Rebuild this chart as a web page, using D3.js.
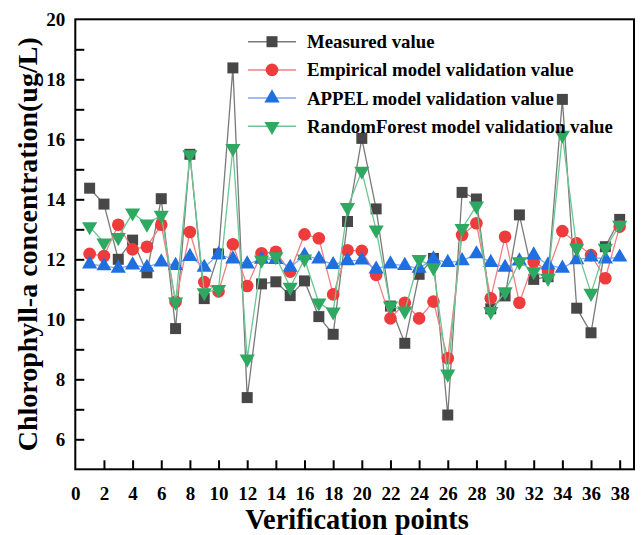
<!DOCTYPE html>
<html>
<head>
<meta charset="utf-8">
<script src="https://cdn.jsdelivr.net/npm/d3@7"></script>
<style>
  html, body { margin: 0; padding: 0; background: #fff; }
  svg text { font-family: "Liberation Serif", "Times New Roman", serif; font-weight: bold; fill: #000; }
</style>
</head>
<body>
<svg id="chart" width="642" height="535"></svg>
<script>
// Verification point indices
const points = d3.range(1, 39);

// Chlorophyll-a concentration (ug/L) at each verification point
const measured = [14.37, 13.84, 12.0, 12.64, 11.55, 14.02, 9.69, 15.5, 10.69, 12.18,
  18.38, 7.39, 11.18, 11.25, 10.79, 11.28, 10.09, 9.5, 13.26, 16.03,
  13.68, 10.44, 9.2, 11.5, 12.03, 6.81, 14.23, 14.01, 10.35, 10.78,
  13.48, 11.33, 11.42, 17.33, 10.37, 9.55, 12.42, 13.33];

const empirical = [12.18, 12.11, 13.15, 12.33, 12.42, 13.15, 10.58, 12.91, 11.24, 10.93,
  12.5, 11.11, 12.2, 12.25, 11.59, 12.83, 12.7, 10.83, 12.3, 12.28,
  11.48, 10.03, 10.55, 10.03, 10.59, 8.7, 12.81, 13.2, 10.7, 12.75,
  10.55, 11.92, 11.62, 12.94, 12.53, 12.14, 11.37, 13.09];

const appel = [11.84, 11.78, 11.7, 11.81, 11.73, 11.91, 11.79, 12.09, 11.73, 12.16,
  12.01, 11.84, 12.0, 11.99, 11.73, 12.13, 12.01, 11.82, 11.95, 11.97,
  11.67, 11.84, 11.79, 11.7, 12.01, 11.89, 11.95, 12.18, 11.89, 11.73,
  11.94, 12.14, 11.81, 11.7, 11.98, 12.07, 12.01, 12.07];

const randomForest = [13.09, 12.55, 12.73, 13.55, 13.18, 13.47, 10.58, 15.49, 10.89, 11.0,
  15.7, 8.68, 11.98, 12.09, 11.07, 12.01, 10.55, 10.25, 13.73, 14.94,
  12.98, 10.45, 10.28, 12.0, 11.72, 8.18, 13.03, 13.78, 10.26, 10.92,
  11.92, 11.59, 11.37, 16.14, 12.37, 10.87, 12.37, 13.14];

// Axis ticks
const xTicks = d3.range(0, 39, 2);
const yTicks = d3.range(5, 21, 1);
const yLabels = d3.range(6, 21, 2);

const seriesNames = [
  "Measured value",
  "Empirical model validation value",
  "APPEL model validation value",
  "RandomForest model validation value"
];

const series = [
  { name: seriesNames[0], values: measured,     symbol: d3.symbolSquare,   size: 121, fill: "#474747", line: "#7a7a7a", rot: 0 },
  { name: seriesNames[1], values: empirical,    symbol: d3.symbolCircle,   size: 125, fill: "#ee3b3b", line: "#f08080", rot: 0 },
  { name: seriesNames[2], values: appel,        symbol: d3.symbolTriangle, size: 100, fill: "#1f6fe0", line: "#7aaaf0", rot: 0 },
  { name: seriesNames[3], values: randomForest, symbol: d3.symbolTriangle, size: 100, fill: "#2fa862", line: "#6cc592", rot: 180 }
];

const svg = d3.select("#chart");
const plotLeft = 75.3, plotRight = 634, plotTop = 19.3, plotBottom = 469.3;

const x = d3.scaleLinear().domain([0, 39]).range([plotLeft, plotRight]);
const y = d3.scaleLinear().domain([5, 20]).range([plotBottom, plotTop]);

// Plot frame
svg.append("rect")
  .attr("x", plotLeft).attr("y", plotTop)
  .attr("width", plotRight - plotLeft).attr("height", plotBottom - plotTop)
  .attr("fill", "none").attr("stroke", "#000").attr("stroke-width", 2);

// Bottom axis: inward ticks, bold labels
const xAxis = svg.append("g").attr("transform", `translate(0,${plotBottom})`)
  .call(d3.axisBottom(x).tickValues(xTicks).tickSize(-9).tickPadding(17).tickFormat(d3.format("d")));
xAxis.select(".domain").remove();
xAxis.selectAll(".tick line").attr("stroke", "#000").attr("stroke-width", 2);
xAxis.selectAll(".tick text").attr("font-size", 19);
xAxis.selectAll(".tick").filter(d => d === 0).select("line").remove();

// Left axis: inward ticks at every unit, labels on even values
const yAxis = svg.append("g").attr("transform", `translate(${plotLeft},0)`)
  .call(d3.axisLeft(y).tickValues(yTicks).tickSize(-9).tickPadding(10)
    .tickFormat(d => yLabels.includes(d) ? d3.format("d")(d) : ""));
yAxis.select(".domain").remove();
yAxis.selectAll(".tick line").attr("stroke", "#000").attr("stroke-width", 2);
yAxis.selectAll(".tick text").attr("font-size", 19);
yAxis.selectAll(".tick").filter(d => d === 5 || d === 20).select("line").remove();

// Axis titles
svg.append("text")
  .attr("x", 357).attr("y", 529)
  .attr("text-anchor", "middle").attr("font-size", 28.4)
  .text("Verification points");

svg.append("text")
  .attr("transform", `translate(37,${(plotTop + plotBottom) / 2}) rotate(-90)`)
  .attr("text-anchor", "middle").attr("font-size", 28)
  .text("Chlorophyll-a concentration(ug/L)");

// Series lines and markers
const line = d3.line().x((d, i) => x(points[i])).y(d => y(d));

series.forEach(s => {
  const g = svg.append("g");
  g.append("path")
    .attr("d", line(s.values))
    .attr("fill", "none")
    .attr("stroke", s.line)
    .attr("stroke-width", 1.3);
  g.selectAll("path.marker")
    .data(s.values)
    .join("path")
    .attr("class", "marker")
    .attr("d", d3.symbol().type(s.symbol).size(s.size))
    .attr("transform", (d, i) => `translate(${x(points[i])},${y(d)}) rotate(${s.rot})`)
    .attr("fill", s.fill);
});

// Legend
const legend = svg.append("g");
series.forEach((s, k) => {
  const cy = 41.7 + k * 28.2;
  const row = legend.append("g").attr("transform", `translate(0,${cy})`);
  row.append("line")
    .attr("x1", 248).attr("x2", 296)
    .attr("stroke", s.line).attr("stroke-width", 1.5);
  row.append("path")
    .attr("d", d3.symbol().type(s.symbol).size(s.size))
    .attr("transform", `translate(272,0) rotate(${s.rot})`)
    .attr("fill", s.fill);
  row.append("text")
    .attr("x", 307).attr("y", 0).attr("dy", "0.35em")
    .attr("font-size", 18.8)
    .text(s.name);
});
</script>
</body>
</html>
